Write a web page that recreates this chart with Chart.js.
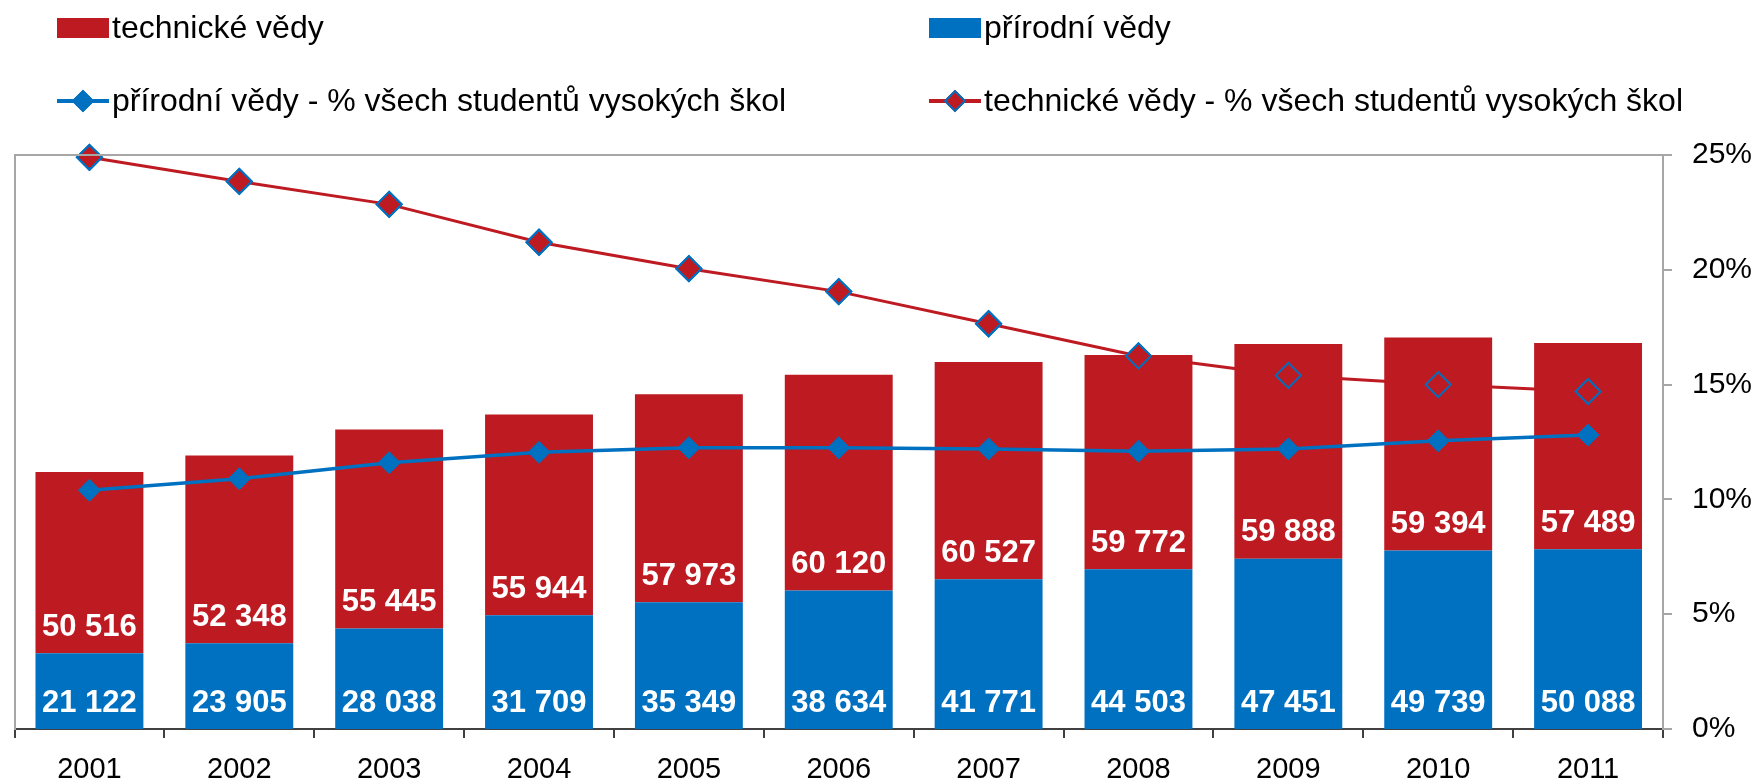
<!DOCTYPE html>
<html>
<head>
<meta charset="utf-8">
<script src="https://cdn.jsdelivr.net/npm/chart.js@4/dist/chart.umd.min.js"></script>
<style>
  body { margin: 0; background: #fff; }
  #wrap { position: relative; width: 1760px; height: 782px; font-family: 'Liberation Sans', Arial, sans-serif; }
  #chart { position: absolute; left: 0; top: 0; }
  .item { position: absolute; display: flex; align-items: center; font-size: 32px; color: #000; white-space: nowrap; }
  .sym { position: relative; width: 52px; height: 22px; margin-right: 3px; }
  .box { position: absolute; left: 0; top: 1px; width: 52px; height: 20px; }
  .ln { position: absolute; left: 0; top: 9px; width: 52px; height: 4px; }
  .dm { position: absolute; left: 18px; top: 3px; width: 16px; height: 16px; transform: rotate(45deg); box-sizing: border-box; }
</style>
</head>
<body>
<div id="wrap">
  <canvas id="chart" width="1760" height="782"></canvas>
</div>
<script>
const years = ['2001', '2002', '2003', '2004', '2005', '2006', '2007', '2008', '2009', '2010', '2011'];
const prirodni = [21122, 23905, 28038, 31709, 35349, 38634, 41771, 44503, 47451, 49739, 50088];
const technicke = [50516, 52348, 55445, 55944, 57973, 60120, 60527, 59772, 59888, 59394, 57489];
const prirodniPct = [10.4, 10.9, 11.6, 12.05, 12.25, 12.25, 12.2, 12.1, 12.2, 12.55, 12.8];
const technickePct = [24.9, 23.85, 22.85, 21.2, 20.05, 19.05, 17.65, 16.25, 15.4, 15.0, 14.7];
const pctTicks = [0, 5, 10, 15, 20, 25];

const RED = '#BE1A22';
const BLUE = '#0070C0';
const FONT = "'Liberation Sans', Arial, sans-serif";

const fmt = v => String(v).replace(/\B(?=(\d{3})+(?!\d))/g, ' ');

// white numbers at the bottom of each bar segment
const barLabels = {
    id: 'barLabels',
    afterDatasetsDraw(chart) {
        const ctx = chart.ctx;
        ctx.save();
        ctx.font = 'bold 31px ' + FONT;
        ctx.fillStyle = '#fff';
        ctx.textAlign = 'center';
        ctx.textBaseline = 'middle';
        chart.data.datasets.forEach((ds, i) => {
            if (ds.type !== 'bar') return;
            chart.getDatasetMeta(i).data.forEach((el, j) => {
                ctx.fillText(fmt(ds.data[j]), el.x, el.base - 26);
            });
        });
        ctx.restore();
    }
};

// grey line along the top of the plot
const topBorder = {
    id: 'topBorder',
    afterDraw(chart) {
        const { ctx, chartArea } = chart;
        ctx.save();
        ctx.strokeStyle = '#A6A6A6';
        ctx.lineWidth = 2;
        ctx.beginPath();
        ctx.moveTo(chartArea.left, chartArea.top);
        ctx.lineTo(chartArea.right, chartArea.top);
        ctx.stroke();
        ctx.restore();
    }
};

const chart = new Chart(document.getElementById('chart'), {
    type: 'bar',
    data: {
        labels: years,
        datasets: [
            {
                type: 'bar', label: 'přírodní vědy', data: prirodni,
                backgroundColor: BLUE, yAxisID: 'y', order: 2,
                barPercentage: 0.72, categoryPercentage: 1
            },
            {
                type: 'bar', label: 'technické vědy', data: technicke,
                backgroundColor: RED, yAxisID: 'y', order: 2,
                barPercentage: 0.72, categoryPercentage: 1
            },
            {
                type: 'line', label: 'přírodní vědy - % všech studentů vysokých škol', data: prirodniPct,
                borderColor: BLUE, backgroundColor: BLUE, borderWidth: 3.5, yAxisID: 'y2', order: 1, clip: false,
                pointStyle: 'rectRot', pointRadius: 11, pointBackgroundColor: BLUE,
                pointBorderColor: BLUE, pointBorderWidth: 1
            },
            {
                type: 'line', label: 'technické vědy - % všech studentů vysokých škol', data: technickePct,
                borderColor: RED, backgroundColor: RED, borderWidth: 3, yAxisID: 'y2', order: 3, clip: false,
                pointStyle: 'rectRot', pointRadius: 12.5, pointBackgroundColor: RED,
                pointBorderColor: BLUE, pointBorderWidth: 2
            },
            {
                // marker outlines stay visible in front of the bars
                type: 'line', label: 'outline', data: technickePct, showLine: false, clip: false,
                yAxisID: 'y2', order: 0, pointStyle: 'rectRot', pointRadius: 12.5,
                pointBackgroundColor: 'rgba(0,0,0,0)', pointBorderColor: BLUE, pointBorderWidth: 2
            }
        ]
    },
    options: {
        responsive: false,
        devicePixelRatio: 1,
        animation: false,
        events: [],
        layout: { padding: { left: 12, top: 155, right: 0, bottom: 0 } },
        plugins: {
            legend: { display: false },
            tooltip: { enabled: false }
        },
        scales: {
            x: {
                stacked: true,
                afterFit: axis => { axis.height = 53; },
                grid: { offset: true, drawOnChartArea: false, tickLength: 9, color: '#404040', lineWidth: 2 },
                border: { color: '#404040', width: 2 },
                ticks: { color: '#000', font: { family: FONT, size: 29 }, padding: 15, maxRotation: 0 }
            },
            y: {
                stacked: true, position: 'left', min: 0, max: 160000,
                afterFit: axis => { axis.width = 0; },
                grid: { display: false },
                border: { color: '#A6A6A6', width: 2 },
                ticks: { display: false }
            },
            y2: {
                position: 'right', min: pctTicks[0], max: pctTicks[pctTicks.length - 1],
                afterBuildTicks: axis => { axis.ticks = pctTicks.map(v => ({ value: v })); },
                afterFit: axis => { axis.width = 97; },
                grid: { drawOnChartArea: false, tickLength: 9, color: '#A6A6A6', lineWidth: 2 },
                border: { color: '#A6A6A6', width: 2 },
                ticks: { color: '#000', font: { family: FONT, size: 30 }, padding: 20, callback: v => v + '%' }
            }
        }
    },
    plugins: [barLabels, topBorder]
});

// legend in two columns, built from the datasets
const wrap = document.getElementById('wrap');
const legendOrder = [1, 0, 2, 3];
const legendPos = [[57, 28], [929, 28], [57, 101], [929, 101]];
legendOrder.forEach((di, i) => {
    const ds = chart.data.datasets[di];
    const item = document.createElement('div');
    item.className = 'item';
    item.style.left = legendPos[i][0] + 'px';
    item.style.top = (legendPos[i][1] - 19) + 'px';
    const sym = document.createElement('div');
    sym.className = 'sym';
    if (ds.type === 'bar') {
        sym.innerHTML = `<div class="box" style="background:${ds.backgroundColor}"></div>`;
    } else {
        sym.innerHTML = `<div class="ln" style="background:${ds.borderColor}"></div>` +
            `<div class="dm" style="background:${ds.pointBackgroundColor};border:${ds.pointBorderWidth}px solid ${ds.pointBorderColor}"></div>`;
    }
    const txt = document.createElement('span');
    txt.textContent = ds.label;
    item.appendChild(sym);
    item.appendChild(txt);
    wrap.appendChild(item);
});
</script>
</body>
</html>
